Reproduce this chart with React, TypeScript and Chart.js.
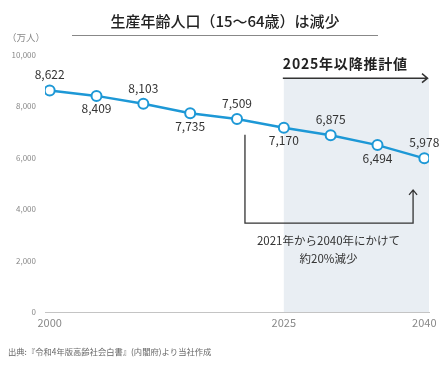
import React, { useEffect, useRef } from "react";
import { Chart, registerables } from "chart.js";

Chart.register(...registerables);

const years = [2000, 2005, 2010, 2015, 2020, 2025, 2030, 2035, 2040];
const values = [8622, 8409, 8103, 7735, 7509, 7170, 6875, 6494, 5978];
const xTickYears = [2000, 2025, 2040];
const yTicks = [0, 2000, 4000, 6000, 8000, 10000];

const title = "生産年齢人口（15～64歳）は減少";
const unitLabel = "（万人）";
const forecastLabel = "2025年以降推計値";
const forecastStart = 2025;
const noteLines = ["2021年から2040年にかけて", "約20%減少"];
const sourceText = "出典:『令和4年版高齢社会白書』(内閣府)より当社作成";

const JP = '"Noto Sans CJK JP", "Noto Sans", sans-serif';
const fmt = (v: number) => String(v).replace(/\B(?=(\d{3})+(?!\d))/g, ",");

export default function App() {
  const ref = useRef<HTMLCanvasElement | null>(null);
  useEffect(() => {
    if (!ref.current) return;
    const deco = {
      id: "deco",
      beforeDraw(chart: any) {
        const { ctx, chartArea, scales } = chart;
        const x = scales.x, y = scales.y;
        ctx.save();
        ctx.fillStyle = "#e9eef3";
        const x0 = x.getPixelForValue(forecastStart);
        const yTop = y.getPixelForValue(9100);
        ctx.fillRect(x0, yTop, chartArea.right - x0, chartArea.bottom - yTop);
        ctx.restore();
      },
      afterDraw(chart: any) {
        const { ctx, chartArea, scales } = chart;
        const x = scales.x, y = scales.y;
        ctx.save();
        // title
        ctx.fillStyle = "#222";
        ctx.font = `500 15px ${JP}`;
        ctx.textAlign = "center";
        ctx.textBaseline = "middle";
        ctx.fillText(title, 225, 21);
        ctx.strokeStyle = "#888";
        ctx.lineWidth = 1;
        ctx.beginPath();
        ctx.moveTo(72, 35.5);
        ctx.lineTo(378, 35.5);
        ctx.stroke();
        // unit
        ctx.fillStyle = "#888";
        ctx.font = `9.5px ${JP}`;
        ctx.textAlign = "left";
        ctx.fillText(unitLabel, 7, 37);
        // forecast label and arrow
        const x0 = x.getPixelForValue(forecastStart);
        const yTop = y.getPixelForValue(9100);
        ctx.fillStyle = "#222";
        ctx.font = `600 14px ${JP}`;
        (ctx as any).letterSpacing = "0.8px";
        ctx.textAlign = "left";
        ctx.fillText(forecastLabel, x0 - 1, 64);
        (ctx as any).letterSpacing = "0px";
        ctx.strokeStyle = "#333";
        ctx.lineWidth = 1.5;
        ctx.beginPath();
        ctx.moveTo(x0 - 1, yTop);
        ctx.lineTo(chartArea.right - 1, yTop);
        ctx.moveTo(chartArea.right - 7, yTop - 4.5);
        ctx.lineTo(chartArea.right - 1.5, yTop);
        ctx.lineTo(chartArea.right - 7, yTop + 4.5);
        ctx.stroke();
        // bracket
        const bx1 = x.getPixelForValue(2020.85);
        const bx2 = x.getPixelForValue(2038.8);
        const byTop = y.getPixelForValue(6900);
        const byBot = y.getPixelForValue(3460);
        const byTip = y.getPixelForValue(4750);
        ctx.strokeStyle = "#333";
        ctx.lineWidth = 1.3;
        ctx.beginPath();
        ctx.moveTo(bx1, byTop);
        ctx.lineTo(bx1, byBot);
        ctx.lineTo(bx2, byBot);
        ctx.lineTo(bx2, byTip);
        ctx.moveTo(bx2 - 4, byTip + 5);
        ctx.lineTo(bx2, byTip);
        ctx.lineTo(bx2 + 4, byTip + 5);
        ctx.stroke();
        ctx.fillStyle = "#333";
        ctx.font = `11.5px ${JP}`;
        ctx.textAlign = "center";
        ctx.fillText(noteLines[0], 328.5, 241);
        ctx.fillText(noteLines[1], 328.5, 259);
        // source
        ctx.fillStyle = "#666";
        ctx.font = `8.3px ${JP}`;
        ctx.textAlign = "left";
        ctx.fillText(sourceText, 8, 352);
        // data labels
        const meta = chart.getDatasetMeta(0);
        ctx.fillStyle = "#333";
        ctx.font = `12px ${JP}`;
        ctx.textAlign = "center";
        meta.data.forEach((pt: any, i: number) => {
          const off = i % 2 === 0 ? -15.5 : 13;
          ctx.fillText(fmt(values[i]), pt.x, pt.y + off);
        });
        ctx.restore();
      },
    };
    const chart = new Chart(ref.current, {
      type: "line",
      data: {
        datasets: [
          {
            data: years.map((yr, i) => ({ x: yr, y: values[i] })),
            borderColor: "#1d98d6",
            borderWidth: 2.5,
            pointRadius: 5,
            pointBorderWidth: 2,
            pointBackgroundColor: "#ffffff",
            pointBorderColor: "#1d98d6",
            tension: 0,
          },
        ],
      },
      options: {
        animation: false,
        responsive: false,
        layout: { padding: { top: 55, right: 16, bottom: 28, left: 0 } },
        plugins: { legend: { display: false }, tooltip: { enabled: false }, title: { display: false } },
        scales: {
          x: {
            type: "linear",
            min: 1999.5,
            max: 2040.5,
            afterBuildTicks: (s: any) => {
              s.ticks = xTickYears.map((v) => ({ value: v }));
            },
            afterFit: (s: any) => {
              s.height = 26;
            },
            grid: { display: false, drawTicks: false },
            border: { display: true, color: "#c4c4c4", width: 1 },
            ticks: {
              autoSkip: false,
              maxRotation: 0,
              padding: 4,
              color: "#888",
              font: { family: JP, size: 11 },
              callback: (v: any) => String(v),
            },
          },
          y: {
            min: 0,
            max: 10000,
            afterBuildTicks: (s: any) => {
              s.ticks = yTicks.map((v) => ({ value: v }));
            },
            afterFit: (s: any) => {
              s.width = 45;
            },
            grid: { display: false, drawTicks: false },
            border: { display: false },
            ticks: {
              padding: 9,
              color: "#888",
              font: { family: JP, size: 8 },
              callback: (v: any) => fmt(Number(v)),
            },
          },
        },
      },
      plugins: [deco],
    } as any);
    return () => chart.destroy();
  }, []);
  return (
    <div style={{ position: "fixed", left: 0, top: 0, width: 445, height: 366, background: "#fff" }}>
      <canvas ref={ref} width={445} height={366} />
    </div>
  );
}
